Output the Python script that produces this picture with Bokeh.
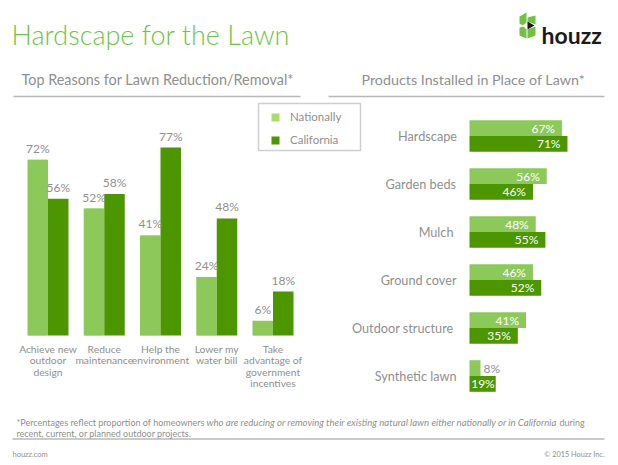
from bokeh.core.properties import value
from bokeh.embed import file_html
from bokeh.resources import INLINE
from bokeh.plotting import figure
from bokeh.models import Range1d, ColumnDataSource, Legend, LegendItem

# ---------- data ----------
reason_categories = ["Achieve new\noutdoor\ndesign", "Reduce\nmaintenance", "Help the\nenvironment",
                     "Lower my\nwater bill", "Take\nadvantage of\ngovernment\nincentives"]
reason_national = [72, 52, 41, 24, 6]
reason_california = [56, 58, 77, 48, 18]
product_categories = ["Hardscape", "Garden beds", "Mulch", "Ground cover", "Outdoor structure", "Synthetic lawn"]
product_national = [67, 56, 48, 46, 41, 8]
product_california = [71, 46, 55, 52, 35, 19]
series_names = ["Nationally", "California"]

LIGHT, DARK, KEY_LIGHT = "#8cc95a", "#4c9600", "#a8dc6e"
GREY, RULE = "#8f8f8f", "#b9b9b9"
FONT = value("Lato")

# ---------- canvas: primary ranges are page pixels ----------
X0, X1, Y0, Y1 = 0, 612, 0, 460
p = figure(width=X1 - X0, height=Y1 - Y0, output_backend="svg", toolbar_location=None,
           x_range=Range1d(X0, X1), y_range=Range1d(Y1, Y0), min_border=0,
           outline_line_color=None, background_fill_color="white", border_fill_color="white")
p.axis.visible = False
p.grid.visible = False

# left chart scales: value -> pixels, group index -> pixels
L_BASE, L_PX = 335, 2.44
p.extra_y_ranges["reason"] = Range1d((L_BASE - Y1) / L_PX, (L_BASE - Y0) / L_PX)
L_X, L_STEP = 47.5, 56.25
p.extra_x_ranges["group"] = Range1d((X0 - L_X) / L_STEP, (X1 - L_X) / L_STEP)
# right chart scales
R_BASE, R_PX = 469, 1.38
p.extra_x_ranges["product"] = Range1d((X0 - R_BASE) / R_PX, (X1 - R_BASE) / R_PX)
R_Y, R_STEP = 135.5, 48.0
p.extra_y_ranges["row"] = Range1d((Y1 - R_Y) / R_STEP, (Y0 - R_Y) / R_STEP)

# ---------- left bars ----------
idx = list(range(len(reason_categories)))
W = 20.5 / L_STEP
src_l = ColumnDataSource(dict(i=idx, n=reason_national, c=reason_california,
                              xn=[i - W / 2 for i in idx], xc=[i + W / 2 for i in idx],
                              ln=[f"{v}%" for v in reason_national], lc=[f"{v}%" for v in reason_california],
                              cat=reason_categories))
kw_l = dict(source=src_l, x_range_name="group", y_range_name="reason")
# the legend key is paler than the bars: it comes from this renderer, which the bars cover
r_key = p.vbar(x="xn", width=W * 0.9, top="n", bottom=0, fill_color=KEY_LIGHT, line_color=None, **kw_l)
p.vbar(x="xn", width=W, top="n", bottom=0, fill_color=LIGHT, line_color=None, **kw_l)
r_c = p.vbar(x="xc", width=W, top="c", bottom=0, fill_color=DARK, line_color=None, **kw_l)
lab = dict(text_font=FONT, text_font_size="12px", text_color=GREY, text_align="center", text_baseline="bottom", y_offset=-4)
p.text(x="xn", y="n", text="ln", **lab, **kw_l)
p.text(x="xc", y="c", text="lc", **lab, **kw_l)
p.text(x="i", y=0, text="cat", text_font=FONT, text_font_size="10.3px", text_color=GREY, text_align="center",
       text_baseline="top", y_offset=7, text_line_height=0.97, **kw_l)

# ---------- right bars ----------
rows = list(range(len(product_categories)))
H = 15.8 / R_STEP
outside = [v < 10 for v in product_national]
src_r = ColumnDataSource(dict(r=rows, yn=[i - H / 2 for i in rows], yc=[i + H / 2 for i in rows],
                              n=product_national, c=product_california,
                              ln=[f"{v}%" for v in product_national], lc=[f"{v}%" for v in product_california],
                              cn=[GREY if o else "white" for o in outside],
                              an=["left" if o else "right" for o in outside],
                              on=[3 if o else -7 for o in outside],
                              oc=[-1 if v < 20 else -7 for v in product_california],
                              ol=[-12.5, -13.5, -16, -13, -16, -13],
                              cat=product_categories))
kw_r = dict(source=src_r, x_range_name="product", y_range_name="row")
p.hbar(y="yn", height=H, left=0, right="n", fill_color=LIGHT, line_color=None, **kw_r)
p.hbar(y="yc", height=H, left=0, right="c", fill_color=DARK, line_color=None, **kw_r)
lab_r = dict(text_font=FONT, text_font_size="12px", text_baseline="middle")
p.text(x="n", y="yn", text="ln", text_color="cn", text_align="an", x_offset="on", **lab_r, **kw_r)
p.text(x="c", y="yc", text="lc", text_color="white", text_align="right", x_offset="oc", **lab_r, **kw_r)
p.text(x=0, y="r", text="cat", text_font=FONT, text_font_size="12.7px", text_color=GREY, text_align="right",
       text_baseline="middle", x_offset="ol", **kw_r)

# ---------- rules ----------
p.segment(x0=[13, 328, 12], x1=[300, 604, 604], y0=[96, 96, 438.5], y1=[96, 96, 438.5], line_color=RULE, line_width=1.6)

# ---------- texts ----------
def txt(x, y, s, size, color=GREY, align="left", style="normal", font=FONT):
    p.text(x=[x], y=[y], text=[s], text_font=font, text_font_size=size, text_color=color, text_align=align,
           text_baseline="alphabetic", text_font_style=style)

txt(11, 34, "Hardscape for the Lawn", "27px", "#6fc34a", font=value("Lato Light"))
txt(21, 79, "Top Reasons for Lawn Reduction/Removal*", "14.4px")
txt(361, 79, "Products Installed in Place of Lawn*", "14.3px")
txt(16, 422, "*Percentages reflect proportion of homeowners", "9px")
txt(206, 422, "who are reducing or removing their existing natural lawn either nationally or in California", "9.6px", style="italic")
txt(559, 422, "during", "9px")
txt(16, 433, "recent, current, or planned outdoor projects.", "9px")
txt(12, 454, "houzz.com", "7.5px")
txt(604, 454, "© 2015 Houzz Inc.", "7.3px", align="right")
txt(541, 34, "houzz", "23px", "#1a1a1a", font=value("Lato"), style="bold")

# ---------- logo ----------
logo_x = [[519, 526, 526, 522, 519], [519, 523, 526, 526, 519],
          [527, 535, 535, 527], [527, 535, 535, 527]]
logo_y = [[16, 12, 22, 25, 23], [27, 26, 29, 38, 35],
          [17, 15, 24, 21], [29, 26, 35, 38]]
p.patches(logo_x, logo_y, fill_color="#74c043", line_color=None)
p.patch([527, 534, 527], [21, 25, 29], fill_color="#1a1a1a", line_color=None)

# ---------- legend ----------
p.quad(left=[258], right=[360], top=[103], bottom=[150], fill_color="white", line_color="#cfcfcf", line_width=1.5)
legend = Legend(items=[LegendItem(label=series_names[0], renderers=[r_key]), LegendItem(label=series_names[1], renderers=[r_c])],
                location=(270, (Y1 - Y0) - 146), orientation="vertical", label_text_font="Lato", label_text_font_size="11.5px",
                label_text_color=GREY, glyph_width=10, glyph_height=10, spacing=10, padding=0, margin=0,
                border_line_color=None, background_fill_alpha=0, label_standoff=10)
p.add_layout(legend)

open("out.html", "w").write(file_html(p, INLINE))
